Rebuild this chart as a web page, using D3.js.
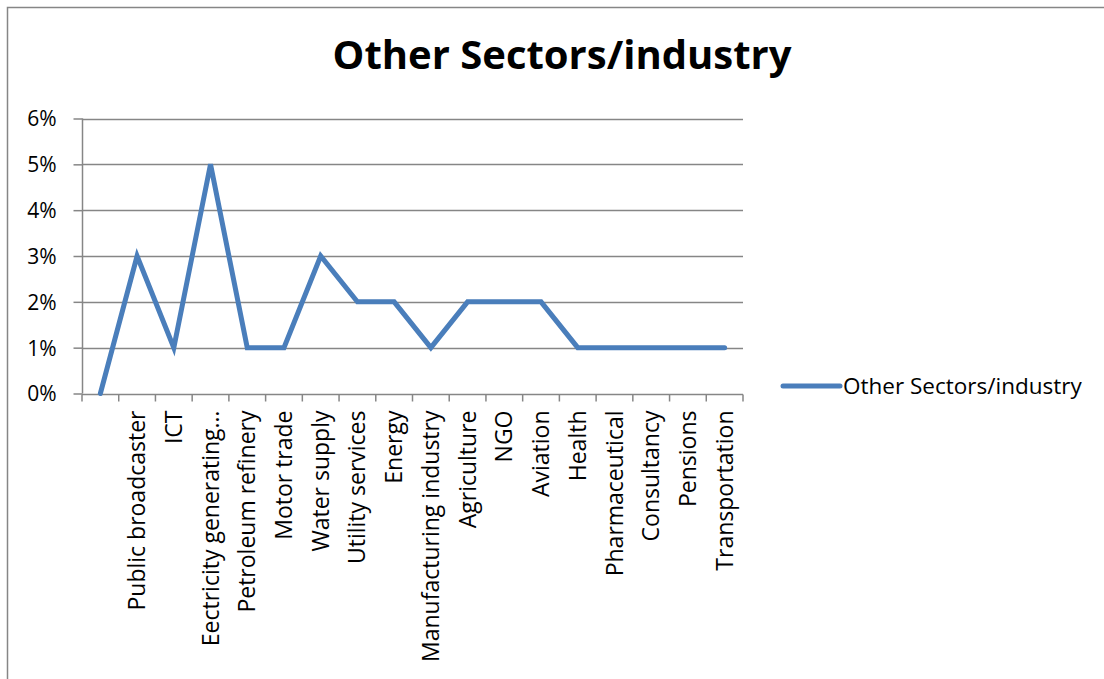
<!DOCTYPE html>
<html>
<head>
<meta charset="utf-8">
<script src="https://cdn.jsdelivr.net/npm/d3@7"></script>
<style>
  html, body { margin: 0; padding: 0; background: #fff; }
  svg { display: block; }
  text { font-family: "Open Sans", sans-serif; fill: #000; }
</style>
</head>
<body>
<svg id="chart" width="1104" height="679"></svg>
<script>
// Sectors along the category axis (first slot has no label)
const categories = ["", "Public broadcaster", "ICT", "Eectricity generating…", "Petroleum refinery",
  "Motor trade", "Water supply", "Utility services", "Energy", "Manufacturing industry",
  "Agriculture", "NGO", "Aviation", "Health", "Pharmaceutical", "Consultancy", "Pensions", "Transportation"];
// Share per sector, in percent
const values = [0, 3, 1, 5, 1, 1, 3, 2, 2, 1, 2, 2, 2, 1, 1, 1, 1, 1];
const yTicks = [0, 1, 2, 3, 4, 5, 6];
const seriesName = "Other Sectors/industry";
const titleText = "Other Sectors/industry";

const svg = d3.select("#chart");
const grey = "#868686";
const lineColor = "#4a7ebb";

// Chart frame
svg.append("rect")
  .attr("x", 7.5).attr("y", 7.5)
  .attr("width", 1200).attr("height", 800)
  .attr("fill", "none").attr("stroke", grey).attr("stroke-width", 1.5);

const plot = { left: 82, right: 743, top: 118.5, bottom: 393.5 };

const x = d3.scaleBand().domain(d3.range(categories.length))
  .range([plot.left, plot.right]).paddingInner(0).paddingOuter(0);
const y = d3.scaleLinear().domain([0, 6]).range([plot.bottom, plot.top]);

// Title
svg.append("text")
  .attr("x", 562).attr("y", 69)
  .attr("text-anchor", "middle")
  .style("font-size", "40px").style("font-weight", "bold")
  .text(titleText);

// Horizontal gridlines
svg.append("g").selectAll("line").data(yTicks.filter(d => d > 0)).join("line")
  .attr("x1", plot.left).attr("x2", plot.right)
  .attr("y1", d => Math.round(y(d)) + 0.5).attr("y2", d => Math.round(y(d)) + 0.5)
  .attr("stroke", grey).attr("stroke-width", 1.5);

// Value axis
const yAxis = svg.append("g")
  .attr("transform", `translate(${plot.left + 0.5},0)`)
  .call(d3.axisLeft(y).tickValues(yTicks).tickSize(9).tickPadding(17)
    .tickFormat(d => d + "%"));
yAxis.selectAll("path, line").attr("stroke", grey).attr("stroke-width", 1.5);
yAxis.select(".domain").attr("d", `M0,${plot.top}V${plot.bottom}`);
yAxis.selectAll("text").style("font-size", "21px").style("font-family", "'Open Sans', sans-serif")
  .attr("dy", "0.35em");

// Category axis
const xAxisG = svg.append("g").attr("transform", `translate(0,${Math.round(plot.bottom) + 0.5})`);
xAxisG.append("line")
  .attr("x1", plot.left).attr("x2", plot.right)
  .attr("stroke", grey).attr("stroke-width", 1.5);
const bounds = d3.range(categories.length + 1).map(i =>
  i < categories.length ? x(i) : x(categories.length - 1) + x.bandwidth());
xAxisG.selectAll("line.tick").data(bounds).join("line")
  .attr("class", "tick")
  .attr("x1", d => d).attr("x2", d => d)
  .attr("y1", 0).attr("y2", 7)
  .attr("stroke", grey).attr("stroke-width", 1.5);
xAxisG.selectAll("text").data(categories).join("text")
  .attr("transform", (d, i) => `translate(${x(i) + x.bandwidth() / 2},16) rotate(-90)`)
  .attr("text-anchor", "end")
  .attr("dy", "0.35em")
  .style("font-size", "23px")
  .text(d => d);

// Series line
const line = d3.line()
  .x((d, i) => x(i) + x.bandwidth() / 2)
  .y(d => y(d));
svg.append("path")
  .datum(values)
  .attr("d", line)
  .attr("fill", "none")
  .attr("stroke", lineColor)
  .attr("stroke-width", 5)
  .attr("stroke-linecap", "round")
  .attr("stroke-linejoin", "miter");

// Legend
const legend = svg.append("g").attr("transform", "translate(783,386)");
legend.append("line")
  .attr("x1", 0).attr("x2", 57)
  .attr("stroke", lineColor).attr("stroke-width", 5).attr("stroke-linecap", "round");
legend.append("text")
  .attr("x", 60).attr("y", 0).attr("dy", "0.35em")
  .style("font-size", "22.5px")
  .text(seriesName);
</script>
</body>
</html>
